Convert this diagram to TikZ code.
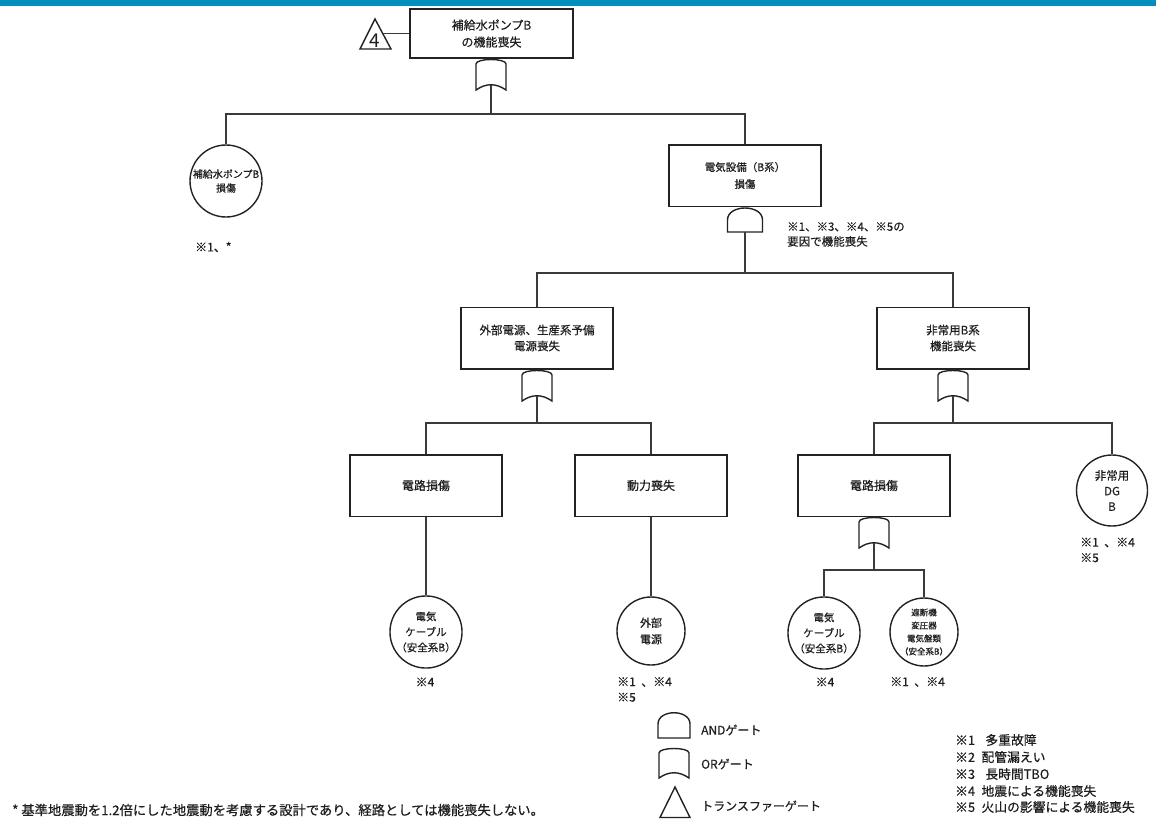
\documentclass[tikz,border=0pt]{standalone}
\usepackage{fontspec}
\setmainfont{Noto Sans CJK JP}[AutoFakeBold=0.5]
\definecolor{linec}{HTML}{3A3A3A}
\definecolor{boxc}{HTML}{222222}
\definecolor{txt}{HTML}{1E1E1E}
\definecolor{barc}{HTML}{0090BD}
\newcommand{\fs}[2]{\fontsize{#1}{#2}\selectfont\bfseries}
\newcommand{\drawORgate}[3]{%
  \draw[gate] (#1-15,#2+32) -- (#1-15,#2+6) .. controls (#1-15,#2) and (#1+15,#2) .. (#1+15,#2+6)
     -- (#1+15,#2+32) .. controls (#1+5,#2+25) and (#1-5,#2+25) .. cycle;
  \coordinate (#3) at (#1,#2+26.75);}
\newcommand{\drawANDgate}[3]{%
  \draw[gate] (#1-17.5,#2+25) -- (#1-17.5,#2+13) .. controls (#1-17.5,#2-3) and (#1+17.5,#2-3) .. (#1+17.5,#2+13)
     -- (#1+17.5,#2+25) -- cycle;
  \coordinate (#3) at (#1,#2+25);}
\begin{document}
\begin{tikzpicture}[x=1pt,y=-1pt,
  line/.style={draw=linec, line width=1.4pt},
  gate/.style={draw=boxc, line width=1.4pt, fill=white},
  box/.style={draw=boxc, line width=1.5pt, minimum width=152pt, minimum height=61.5pt, inner sep=0pt,
    align=center, text=txt, font=\fs{11.5}{16}},
  evt/.style={circle, draw=boxc, line width=1.4pt, minimum size=68pt, inner sep=0pt, align=center,
    text=txt, font=\fs{10.5}{15.5}},
  lbl/.style={anchor=west, inner sep=0pt, text=txt, align=left, font=\fs{12}{15.5}},
  clbl/.style={inner sep=0pt, text=txt, font=\fs{12}{15.5}}
]
\useasboundingbox (0,0) rectangle (1156,819);
\fill[barc] (0,0) rectangle (1156,5.5);

% top event and transfer gate
\node[box, minimum width=163pt, minimum height=49pt, font=\fs{12}{17}] (top) at (491.5,33.5) {補給水ポンプB\\の機能喪失};
\draw[gate, fill=none] (375,19) -- (391,49) -- (360,49) -- cycle;
\node[inner sep=0pt, text=txt, font=\fontsize{19}{20}\selectfont] (tri4) at (375,41) {4};
\coordinate (t0r) at (382.5,33.5);
\draw[line] (t0r) -- (top.west);

\drawORgate{491}{58}{g0}
\coordinate (bus0) at (491,114);
\draw[line] (g0) -- (bus0);

\node[evt, minimum size=72pt, font=\fs{10}{14}] (c1) at (226,181) {補給水ポンプB\\損傷};
\node[box, font=\fs{10.5}{17}] (b1) at (745,175.5) {電気設備（B系）\\損傷};
\draw[line] (c1.north) |- (bus0) -| (b1.north);
\node[lbl] (n1) at (195,247) {※1、*};

\drawANDgate{745}{207}{g1}
\node[lbl, font=\fs{11.5}{15}] (n2) at (787,234.5) {※1、※3、※4、※5の\\要因で機能喪失};
\coordinate (bus1) at (745,273);
\draw[line] (g1) -- (bus1);

\node[box] (b2) at (537,338) {外部電源、生産系予備\\電源喪失};
\node[box] (b3) at (953,338) {非常用B系\\機能喪失};
\draw[line] (b2.north) |- (bus1) -| (b3.north);

\drawORgate{537}{369}{g2}
\drawORgate{953}{369}{g3}
\coordinate (bus2) at (537,423);
\coordinate (bus3) at (953,423);
\draw[line] (g2) -- (bus2);
\draw[line] (g3) -- (bus3);

\node[box, font=\fs{12}{16}] (b4) at (426,485.5) {電路損傷};
\node[box, font=\fs{12}{16}] (b5) at (651,485.5) {動力喪失};
\node[box, font=\fs{12}{16}] (b6) at (874,485.5) {電路損傷};
\node[evt, minimum size=71pt, font=\fs{11.5}{15.5}] (c7) at (1112,490.5) {非常用\\DG\\B};
\draw[line] (b4.north) |- (bus2) -| (b5.north);
\draw[line] (b6.north) |- (bus3) -| (c7.north);
\node[lbl] (n7) at (1080,550) {※1\hspace{0.45em}、※4\\※5};

\node[evt] (c2) at (426,632) {電気\\ケーブル\\（安全系B）};
\node[evt, font=\fs{11}{16.5}] (c3) at (651,631) {外部\\電源};
\draw[line] (b4.south) -- (c2.north);
\draw[line] (b5.south) -- (c3.north);
\node[clbl] (n3) at (425,682) {※4};
\node[lbl] (n4) at (617,689.5) {※1\hspace{0.45em}、※4\\※5};

\drawORgate{874}{516}{g4}
\coordinate (bus4) at (874,570);
\draw[line] (g4) -- (bus4);
\node[evt] (c4) at (824,633) {電気\\ケーブル\\（安全系B）};
\node[evt, font=\fs{8.5}{13}] (c5) at (924,632) {遮断機\\変圧器\\電気盤類\\（安全系B）};
\draw[line] (c4.north) |- (bus4) -| (c5.north);
\node[clbl] (n5) at (825,682) {※4};
\node[lbl] (n6) at (890,682) {※1\hspace{0.45em}、※4};

% legend
\draw[gate] (658,738) -- (658,724) .. controls (658,709) and (690,709) .. (690,724) -- (690,738) -- cycle;
\draw[gate] (659,778) -- (659,753) .. controls (659,747) and (689,747) .. (689,753) -- (689,778) .. controls (679,771) and (669,771) .. cycle;
\draw[gate, fill=none] (675,787) -- (690,817.5) -- (660,817.5) -- cycle;
\node[lbl] (lg1) at (701,730) {ANDゲート};
\node[lbl] (lg2) at (701,764) {ORゲート};
\node[lbl] (lg3) at (701,806) {トランスファーゲート};

\node[lbl, font=\fs{12.8}{16}] (k1) at (955,740) {※1\hspace{0.8em}多重故障};
\node[lbl, font=\fs{12.8}{16}] (k2) at (955,757) {※2\hspace{0.5em}配管漏えい};
\node[lbl, font=\fs{12.8}{16}] (k3) at (955,774) {※3\hspace{0.8em}長時間TBO};
\node[lbl, font=\fs{12.8}{16}] (k4) at (955,791) {※4\hspace{0.5em}地震による機能喪失};
\node[lbl, font=\fs{12.8}{16}] (k5) at (955,807) {※5\hspace{0.5em}火山の影響による機能喪失};

\node[lbl, font=\fs{13.3}{15}] (foot) at (12,810) {* 基準地震動を1.2倍にした地震動を考慮する設計であり、経路としては機能喪失しない。};
\end{tikzpicture}
\end{document}
